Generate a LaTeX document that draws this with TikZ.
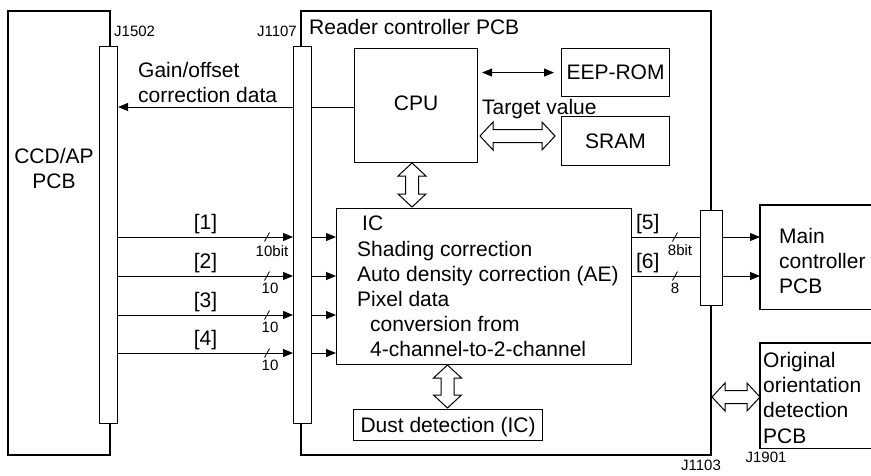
\documentclass[tikz,border=0pt]{standalone}
\usepackage{fontspec}
\setmainfont{Liberation Sans}
\usetikzlibrary{arrows.meta,calc,backgrounds}
\def\hl{13pt}\def\hw{14pt}\def\sw{6.5pt}
\begin{document}
\begin{tikzpicture}[x=1pt,y=-1pt,
  every node/.style={font=\fontsize{21}{25.2}\selectfont, inner sep=0pt},
  small/.style={font=\fontsize{15}{17}\selectfont},
  box/.style={draw, line width=1.1pt, fill=white, anchor=north west},
  conn/.style={draw, line width=1.1pt, fill=white, anchor=north west},
  outline/.style={line width=2.6pt},
  thinline/.style={line width=1pt},
  arr/.style={line width=1pt, -{Triangle[length=10pt,width=8pt]}},
  darr/.style={line width=1pt, {Triangle[length=10pt,width=8pt]}-{Triangle[length=10pt,width=8pt]}},
  slash/.style={line width=0.8pt},
  hollow/.style={draw, fill=white, line width=1pt, line join=miter, to path={
    -- ($(\tikztostart)!\hl!(\tikztotarget)!\hw!90:(\tikztotarget)$)
    -- ($(\tikztostart)!\hl!(\tikztotarget)!\sw!90:(\tikztotarget)$)
    -- ($(\tikztotarget)!\hl!(\tikztostart)!\sw!-90:(\tikztostart)$)
    -- ($(\tikztotarget)!\hl!(\tikztostart)!\hw!-90:(\tikztostart)$)
    -- (\tikztotarget)
    -- ($(\tikztotarget)!\hl!(\tikztostart)!\hw!90:(\tikztostart)$)
    -- ($(\tikztotarget)!\hl!(\tikztostart)!\sw!90:(\tikztostart)$)
    -- ($(\tikztostart)!\hl!(\tikztotarget)!\sw!-90:(\tikztotarget)$)
    -- ($(\tikztostart)!\hl!(\tikztotarget)!\hw!-90:(\tikztotarget)$)
    -- cycle}}
]
\useasboundingbox (0,0) rectangle (871,475);

% board outlines
\draw[outline] (110,46) -- (110,11) -- (8,11) -- (8,455) -- (110,455) -- (110,423);
\draw[outline] (301,46) -- (301,11) -- (711,11) -- (711,210);
\draw[outline] (711,305) -- (711,455) -- (301,455) -- (301,423);

% connectors
\node[conn, minimum width=18pt, minimum height=377pt] (j1502) at (99,46) {};
\node[conn, minimum width=18pt, minimum height=377pt] (j1107) at (293,46) {};
\node[conn, minimum width=22pt, minimum height=95pt] (j1103) at (700,210) {};

% connector labels
\node[small, anchor=west] (lj1502) at (114,31) {J1502};
\node[small, anchor=east] (lj1107) at (297,31) {J1107};
\node[small] (lj1103) at (701,465) {J1103};
\node[small] (lj1901) at (766,457) {J1901};

% texts of boards
\node[align=center, anchor=north] (ccd) at (54,148) {CCD/AP\\PCB};
\node[anchor=west] (rtitle) at (309,26.5) {Reader controller PCB};

% blocks
\node[box, minimum width=123pt, minimum height=114pt, text depth=5pt] (cpu) at (354,48) {CPU};
\node[box, minimum width=108pt, minimum height=48pt] (eep) at (561,48) {EEP-ROM};
\node[box, minimum width=108pt, minimum height=49pt] (sram) at (561,116) {SRAM};
\node[box, minimum width=295pt, minimum height=156pt] (ic) at (336,208) {};
\node[align=left, anchor=north west] (ictxt) at (357,216) {\hspace*{5pt}IC\\Shading correction\\Auto density correction (AE)\\Pixel data\\\hspace*{13pt}conversion from\\\hspace*{13pt}4-channel-to-2-channel};
\node[box, minimum width=189pt, minimum height=31pt, text depth=0pt] (dust) at (353,409) {Dust detection (IC)};

\node[anchor=north west, minimum width=111pt, minimum height=104pt] (mc) at (760,205) {};
\draw[line width=1.1pt] (mc.north east) -- (mc.north west) -- (mc.south west) -- (mc.south east);
\node[align=left, anchor=north west] (mctxt) at (779,228) {Main\\controller\\PCB};
\node[anchor=north west, minimum width=111pt, minimum height=105pt] (ood) at (760,343) {};
\draw[line width=1.1pt] (ood.north east) -- (ood.north west) -- (ood.south west) -- (ood.south east);
\node[align=left, anchor=north west] (oodtxt) at (763,352) {Original\\orientation\\detection\\PCB};

% gain / offset line (passes behind J1107)
\coordinate (gy) at (0,107);
\begin{pgfonlayer}{background}
\draw[arr] (cpu.west |- gy) -- (j1502.east |- gy);
\end{pgfonlayer}
\node[align=left, anchor=north west] (gain) at (138,62) {Gain/offset\\correction data};

% CPU <-> EEP-ROM, SRAM
\draw[darr] ([xshift=4pt]cpu.east |- eep.west) -- ([xshift=-7pt]eep.west);
\node[anchor=base west] (tv) at (482,114) {Target value};
\coordinate (s1) at (480,136);
\coordinate (s2) at (555,136);
\draw[hollow] (s1) to (s2);

% CPU <-> IC, IC <-> dust
\coordinate (v1a) at (412,163);
\coordinate (v1b) at (412,207);
\draw[hollow] (v1a) to (v1b);
\coordinate (v2a) at (447.5,365);
\coordinate (v2b) at (447.5,408);
\draw[hollow] (v2a) to (v2b);

% reader <-> original orientation detection
\coordinate (oa) at (712,397);
\coordinate (ob) at (760,397);
\draw[hollow] (oa) to (ob);

% input rows
\coordinate (r1) at (0,237);
\coordinate (r2) at (0,276);
\coordinate (r3) at (0,315);
\coordinate (r4) at (0,353);
\draw[arr] (j1502.east |- r1) -- node[above=3pt] (l1) {[1]} (j1107.west |- r1);
\draw[arr] (j1502.east |- r2) -- node[above=3pt] (l2) {[2]} (j1107.west |- r2);
\draw[arr] (j1502.east |- r3) -- node[above=3pt] (l3) {[3]} (j1107.west |- r3);
\draw[arr] (j1502.east |- r4) -- node[above=3pt] (l4) {[4]} (j1107.west |- r4);
\foreach \r in {r1,r2,r3,r4}{
  \draw[slash] ($(j1107.west |- \r)+(-26,0)$) ++(-2.5,4.5) -- ++(5,-9);
  \draw[arr] (j1107.east |- \r) -- (ic.west |- \r);
}
\node[small, anchor=north] (b1) at ($(j1107.west |- r1)+(-21,8)$) {10bit};
\node[small, anchor=north] (b2) at ($(j1107.west |- r2)+(-23,7)$) {10};
\node[small, anchor=north] (b3) at ($(j1107.west |- r3)+(-23,7)$) {10};
\node[small, anchor=north] (b4) at ($(j1107.west |- r4)+(-23,7)$) {10};

% output rows
\coordinate (o5) at (0,237);
\coordinate (o6) at (0,276);
\draw[thinline] (ic.east |- o5) -- node[pos=0.23, above=3pt] (l5) {[5]} (j1103.west |- o5);
\draw[thinline] (ic.east |- o6) -- node[pos=0.23, above=3pt] (l6) {[6]} (j1103.west |- o6);
\draw[slash] ($(j1103.west |- o5)+(-25,0)$) ++(-2.5,4.5) -- ++(5,-9);
\draw[slash] ($(j1103.west |- o6)+(-25,0)$) ++(-2.5,4.5) -- ++(5,-9);
\node[small, anchor=north] (b5) at ($(j1103.west |- o5)+(-20,7)$) {8bit};
\node[small, anchor=north] (b6) at ($(j1103.west |- o6)+(-25,7)$) {8};
\draw[arr] (j1103.east |- o5) -- (mc.west |- o5);
\draw[arr] (j1103.east |- o6) -- (mc.west |- o6);
\end{tikzpicture}
\end{document}
